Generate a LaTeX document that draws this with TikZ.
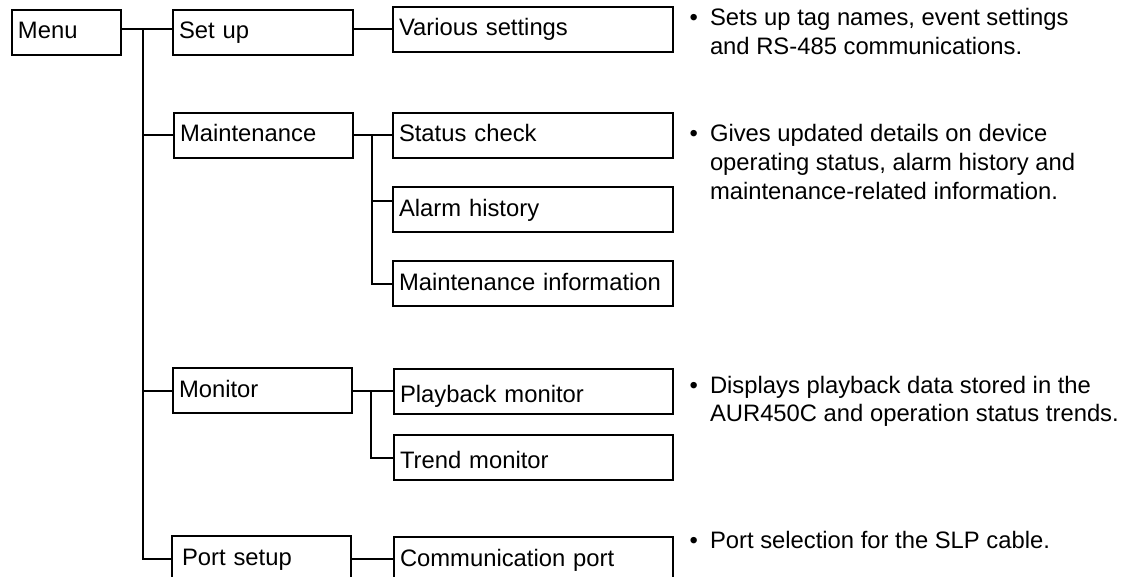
\documentclass[tikz,border=0pt]{standalone}
\usepackage{fontspec}
\setmainfont{Liberation Sans}
\usetikzlibrary{positioning,calc}

\begin{document}
\begin{tikzpicture}[x=0.5pt, y=-0.5pt,
    font=\fontsize{11.9}{14.25}\selectfont, line width=1pt,
    box/.style={draw, anchor=north west, inner xsep=3pt, inner ysep=0pt,
      text height=14.5pt, text depth=8pt, text width=#1, align=left},
    low/.style={text height=16.5pt, text depth=6pt},
    note/.style={anchor=base west, align=left, inner sep=0pt}]
  \useasboundingbox (0,0) rectangle (1128,577);

  \node[box=48.5pt] (menu) at (11,9) {Menu};
  \node[box=84pt] (setup) at (172,9) {Set up};
  \node[box=83.5pt] (maint) at (173,112) {Maintenance};
  \node[box=83.5pt] (monitor) at (172,367) {Monitor};
  \node[box=79.5pt, inner xsep=5pt] (portsetup) at (171,535) {Port setup};

  \node[box=134pt] (various) at (392,6) {Various settings};
  \node[box=134pt] (status) at (392,112) {Status check};
  \node[box=134pt] (alarm) at (392,186) {Alarm history};
  \node[box=134pt] (maintinfo) at (392,260) {Maintenance information};
  \node[box=133.5pt, low] (playback) at (393,368) {Playback monitor};
  \node[box=133.5pt, low] (trend) at (393,434) {Trend monitor};
  \node[box=133.5pt] (commport) at (393,536) {Communication port};

  \node[note] (note1) at (709,54.5) {\llap{\textbullet\hspace{6pt}}Sets up tag names, event settings\\
    and RS-485 communications.};
  \node[note] (note2) at (709,199) {\llap{\textbullet\hspace{6pt}}Gives updated details on device\\
    operating status, alarm history and\\
    maintenance-related information.};
  \node[note] (note3) at (709,421.5) {\llap{\textbullet\hspace{6pt}}Displays playback data stored in the\\
    AUR450C and operation status trends.};
  \node[note] (note4) at (709,548) {\llap{\textbullet\hspace{6pt}}Port selection for the SLP cable.};

  \coordinate (trunk) at (143,0);
  \coordinate (mfork) at (372,0);
  \coordinate (nfork) at (371,0);
  \coordinate (m0) at ([yshift=1.5pt]menu.east);
  \coordinate (s0) at ([yshift=1.5pt]setup.east);
  \coordinate (a0) at ([yshift=4pt]alarm.west);

  \draw (m0) -- (m0 -| setup.west);
  \draw (trunk |- m0) |- (portsetup.west);
  \foreach \n in {maint, monitor} {
    \draw (trunk |- \n.west) -- (\n.west);
  };

  \draw (s0) -- (s0 -| various.west);
  \draw (maint) -- (status);
  \draw (mfork |- status.west) |- (maintinfo.west);
  \draw (mfork |- a0) -- (a0);
  \draw (monitor.east) -- (monitor.east -| playback.west);
  \draw (nfork |- monitor.east) |- (trend.west);
  \draw (portsetup.east) -- (portsetup.east -| commport.west);
\end{tikzpicture}
\end{document}
